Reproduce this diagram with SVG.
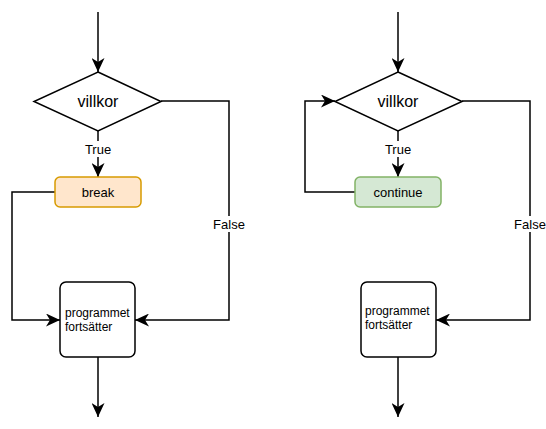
<svg xmlns="http://www.w3.org/2000/svg" width="546" height="429" viewBox="0 0 546 429">
<defs>
<marker id="arr" viewBox="0 0 14 13" refX="14" refY="6.5" markerWidth="14" markerHeight="13" markerUnits="userSpaceOnUse" orient="auto">
<path d="M0,0 L14,6.5 L0,13 L4,6.5 Z" fill="#000"/>
</marker>
<style>
.e{fill:none;stroke:#000;stroke-width:1.5}
.d{fill:#fff;stroke:#000;stroke-width:1.5}
.t{font-family:"Liberation Sans",Arial,sans-serif;fill:#000}
.lbl{font-size:13px;text-anchor:middle}
.big{font-size:16px;text-anchor:middle}
.sm{font-size:12px}
</style>
</defs>
<rect width="546" height="429" fill="#fff"/>
<g id="connectors">
<path class="e" d="M98,12 V72" marker-end="url(#arr)"/>
<path class="e" d="M98,131 V177" marker-end="url(#arr)"/>
<path class="e" d="M55,192 H12 V320 H60" marker-end="url(#arr)"/>
<path class="e" d="M161,101 H229 V320 H135" marker-end="url(#arr)"/>
<path class="e" d="M98,357 V417" marker-end="url(#arr)"/>
<path class="e" d="M398,12 V72" marker-end="url(#arr)"/>
<path class="e" d="M398,131 V177" marker-end="url(#arr)"/>
<path class="e" d="M355,192 H305 V101 H335" marker-end="url(#arr)"/>
<path class="e" d="M462,101 H530 V320 H436" marker-end="url(#arr)"/>
<path class="e" d="M398,357 V417" marker-end="url(#arr)"/>
<rect x="83" y="141" width="30" height="16" fill="#fff"/>
<text class="t lbl" x="98" y="154">True</text>
<rect x="383" y="141" width="30" height="16" fill="#fff"/>
<text class="t lbl" x="398" y="154">True</text>
<rect x="212" y="216" width="34" height="16" fill="#fff"/>
<text class="t lbl" x="229" y="229">False</text>
<rect x="513" y="216" width="34" height="16" fill="#fff"/>
<text class="t lbl" x="530" y="229">False</text>
</g>
<g id="villkor1">
<path class="d" d="M98,72 L161,101.5 L98,131 L34,101.5 Z"/>
<text class="t big" x="98" y="106.5">villkor</text>
</g>
<g id="break">
<rect x="55" y="177" width="86" height="30" rx="5" fill="#ffe6cc" stroke="#d79b00" stroke-width="1.5"/>
<text class="t lbl" x="98" y="197">break</text>
</g>
<g id="fortsatter1">
<rect class="d" x="60" y="282" width="75" height="75" rx="6"/>
<text class="t sm" x="65" y="317">programmet</text>
<text class="t sm" x="65" y="331">fortsätter</text>
</g>
<g id="villkor2">
<path class="d" d="M398,72 L462,101.5 L398,131 L335,101.5 Z"/>
<text class="t big" x="398" y="106.5">villkor</text>
</g>
<g id="continue">
<rect x="355" y="177" width="86" height="30" rx="5" fill="#d5e8d4" stroke="#82b366" stroke-width="1.5"/>
<text class="t lbl" x="398" y="197">continue</text>
</g>
<g id="fortsatter2">
<rect class="d" x="361" y="282" width="75" height="75" rx="6"/>
<text class="t sm" x="365" y="315">programmet</text>
<text class="t sm" x="365" y="329">fortsätter</text>
</g>
</svg>
